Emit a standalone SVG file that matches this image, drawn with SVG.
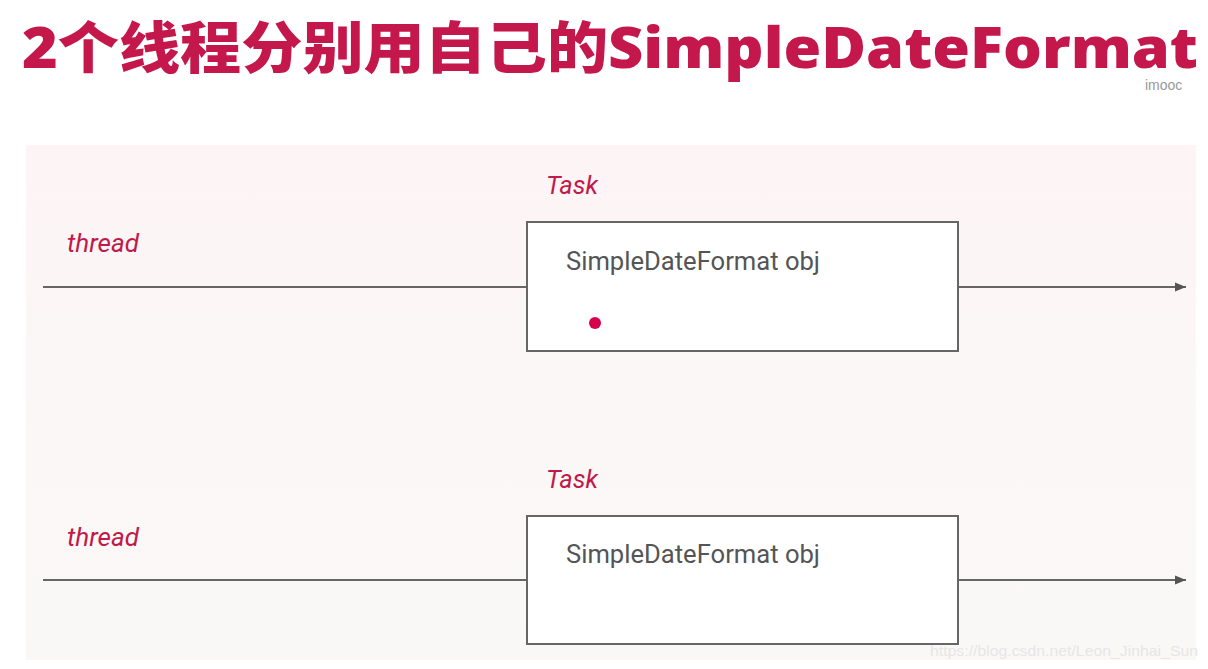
<svg xmlns="http://www.w3.org/2000/svg" width="1208" height="669" viewBox="0 0 1208 669">
<defs>
<linearGradient id="bg" x1="0" y1="0" x2="0" y2="1">
<stop offset="0" stop-color="#fdf4f6"/>
<stop offset="0.5" stop-color="#fbf7f7"/>
<stop offset="1" stop-color="#faf8f7"/>
</linearGradient>
<marker id="arr" viewBox="0 0 10 10" refX="10" refY="5" markerWidth="11" markerHeight="11" markerUnits="userSpaceOnUse" orient="auto">
<path d="M0,1 L10,5 L0,9 z" fill="#555"/>
</marker>
<style>
.title{font-family:"Noto Sans","Noto Sans CJK SC",sans-serif;font-weight:900;font-size:56px;fill:#c4174b}
.lbl{font-family:Roboto,"Liberation Sans",sans-serif;font-style:italic;font-size:26px;fill:#c01a48}
.obj{font-family:Roboto,"Liberation Sans",sans-serif;font-size:26px;fill:#555}
.box{fill:#fff;stroke:#666;stroke-width:2}
.ln{stroke:#666;stroke-width:2;fill:none}
</style>
</defs>
<rect width="1208" height="669" fill="#fff"/>
<text class="title" x="22" y="68" textLength="1176" lengthAdjust="spacingAndGlyphs">2个线程分别用自己的SimpleDateFormat</text>
<text x="1145" y="90" font-family="Liberation Sans,sans-serif" font-size="14" fill="#999">imooc</text>
<rect x="26" y="145" width="1170" height="515" fill="url(#bg)"/>
<g id="connectors">
<line class="ln" x1="43" y1="287" x2="527" y2="287"/>
<line class="ln" x1="958" y1="287" x2="1186" y2="287" marker-end="url(#arr)"/>
<line class="ln" x1="43" y1="580" x2="527" y2="580"/>
<line class="ln" x1="958" y1="580" x2="1186" y2="580" marker-end="url(#arr)"/>
</g>
<g id="thread1">
<text class="lbl" x="67" y="252" textLength="72" lengthAdjust="spacingAndGlyphs">thread</text>
</g>
<g id="task1">
<text class="lbl" x="546" y="194" textLength="52" lengthAdjust="spacingAndGlyphs">Task</text>
<rect class="box" x="527" y="222" width="431" height="129"/>
<text class="obj" x="566" y="270" textLength="254" lengthAdjust="spacingAndGlyphs">SimpleDateFormat obj</text>
<circle cx="595" cy="323" r="6" fill="#d8004a"/>
</g>
<g id="thread2">
<text class="lbl" x="67" y="546" textLength="72" lengthAdjust="spacingAndGlyphs">thread</text>
</g>
<g id="task2">
<text class="lbl" x="546" y="488" textLength="52" lengthAdjust="spacingAndGlyphs">Task</text>
<rect class="box" x="527" y="516" width="431" height="128"/>
<text class="obj" x="566" y="563" textLength="254" lengthAdjust="spacingAndGlyphs">SimpleDateFormat obj</text>
</g>
<text x="930" y="656" font-family="Liberation Sans,sans-serif" font-size="15" fill="#e6e6e6" textLength="268" lengthAdjust="spacingAndGlyphs">https://blog.csdn.net/Leon_Jinhai_Sun</text>
</svg>
